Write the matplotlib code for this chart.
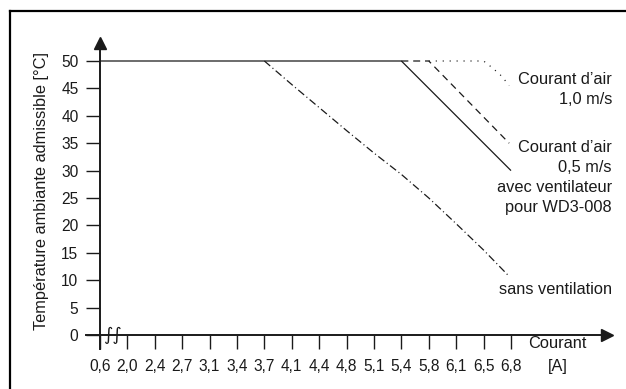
import numpy as np
import matplotlib
matplotlib.use("Agg")
import matplotlib.pyplot as plt
from matplotlib.lines import Line2D

# Courant (A) tick values, equally spaced on the axis
tick_values = [0.6, 2.0, 2.4, 2.7, 3.1, 3.4, 3.7, 4.1, 4.4, 4.8, 5.1, 5.4, 5.8, 6.1, 6.5, 6.8]
tick_labels = ['0,6', '2,0', '2,4', '2,7', '3,1', '3,4', '3,7', '4,1', '4,4',
               '4,8', '5,1', '5,4', '5,8', '6,1', '6,5', '6,8']
temp_ticks = [0, 5, 10, 15, 20, 25, 30, 35, 40, 45, 50]

# curves (current in A, temperature in degC)
sans_x = [3.7, 4.1, 4.4, 4.8, 5.1, 5.4, 5.8, 6.1, 6.5, 6.78]
sans_y = [50, 45.7, 41.5, 37.3, 33.2, 29.3, 25.0, 20.3, 15.5, 10.7]
vent_x = [0.6, 5.4, 6.8]
vent_y = [50, 50, 30]
air05_x = [5.4, 5.8, 6.78]
air05_y = [50, 50, 35]
air10_x = [5.8, 6.5, 6.6, 6.7, 6.78]
air10_y = [50, 50, 48.7, 47.2, 45.5]

INK = '#1a1a1a'
FS = 11.2      # tick labels
FS_LBL = 11.8  # curve / axis labels
plt.rcParams['font.family'] = ['Liberation Sans', 'DejaVu Sans']
plt.rcParams['lines.scale_dashes'] = False

W, H = 626, 389
fig = plt.figure(figsize=(W / 100, H / 100), dpi=100)
ax = fig.add_axes([0, 0, 1, 1])

# pixel layout of the original: index 0 at x=100px, 27.4px per tick; 0 degC at y=335px
x0, dx = 100, 27.4
y0, dy = 335, 27.4 / 5
ax.set_xlim((0 - x0) / dx, (W - x0) / dx)
ax.set_ylim((y0 - H) / dy, y0 / dy)
ax.patch.set_alpha(0)


def pos(current):
    # map current (A) onto the equally spaced tick index
    return np.interp(current, tick_values, np.arange(len(tick_values)))


ax.plot(pos(sans_x), sans_y, color=INK, lw=0.9, dashes=(5.5, 2.2, 0.8, 2.2))
ax.plot(pos(air10_x), air10_y, color=INK, lw=0.9, dashes=(0.8, 4.2))
ax.plot(pos(air05_x), air05_y, color=INK, lw=0.9, dashes=(5, 3.5))
ax.plot(pos(vent_x), vent_y, color=INK, lw=0.9, solid_capstyle='butt')

# axes as spines through the origin
for side in ['top', 'right']:
    ax.spines[side].set_visible(False)
for side in ['left', 'bottom']:
    ax.spines[side].set_position(('data', 0))
    ax.spines[side].set_color(INK)
    ax.spines[side].set_linewidth(1.4)
ax.spines['left'].set_bounds(-2.6, 53.5)
ax.spines['bottom'].set_bounds(-0.5, 18.4)

ax.set_xticks(np.arange(len(tick_labels)))
ax.set_xticklabels(tick_labels)
ax.set_yticks(temp_ticks)
ax.set_yticklabels([str(t) for t in temp_ticks])
ax.tick_params(axis='both', direction='out', length=10, width=1.0, color=INK,
               labelsize=FS, labelcolor=INK)
ax.tick_params(axis='y', pad=5.5)
ax.tick_params(axis='x', pad=7.5)

# arrow heads
ax.plot([0], [53.3], marker='^', ms=8.6, color=INK, clip_on=False)
ax.plot([(607 - x0) / dx], [0], marker='>', ms=9, color=INK, clip_on=False)

# axis break mark
ax.text(0.47, 0, '\u222b\u222b', fontsize=13, family='DejaVu Sans', color=INK,
        ha='center', va='center')


def ftext(px, py, s, **kw):
    fig.text(px / W, 1 - py / H, s, fontsize=FS_LBL, color=INK, **kw)


ftext(42, 191, 'Température ambiante admissible [°C]', rotation=90, ha='center', va='center')
ftext(557, 344, 'Courant', ha='center', va='center')
ftext(558, 367, '[A]', ha='center', va='center')

right = 612
ftext(right, 80, 'Courant d\u2019air', ha='right', va='center')
ftext(right, 100, '1,0 m/s', ha='right', va='center')
ftext(right, 147, 'Courant d\u2019air', ha='right', va='center')
ftext(right, 167, '0,5 m/s', ha='right', va='center')
ftext(right, 188, 'avec ventilateur', ha='right', va='center')
ftext(right, 207, 'pour WD3-008', ha='right', va='center')
ftext(right, 290, 'sans ventilation', ha='right', va='center')

# outer frame (left and top edges)
fig.add_artist(Line2D([10 / W, 10 / W], [0, 1 - 11 / H], color='black', lw=1.6,
                      transform=fig.transFigure))
fig.add_artist(Line2D([10 / W, 1], [1 - 11 / H, 1 - 11 / H], color='black', lw=1.6,
                      transform=fig.transFigure))

fig.savefig('out.png', dpi=100)
